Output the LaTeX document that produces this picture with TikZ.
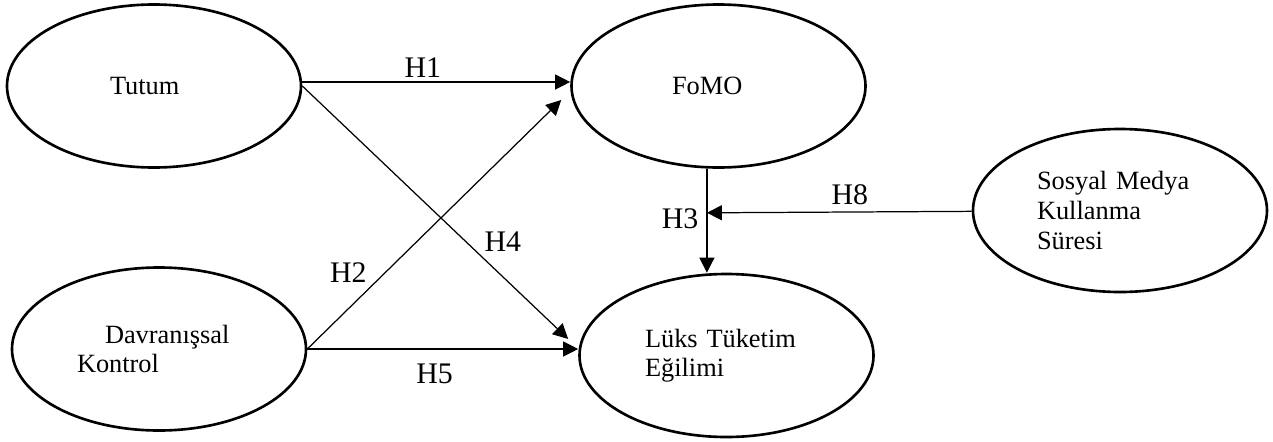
\documentclass[tikz,border=0pt]{standalone}
\usepackage{fontspec}
\setmainfont{Liberation Serif}
\usetikzlibrary{shapes, arrows.meta}
\tikzstyle{construct} = [ellipse, minimum width=5.88cm, minimum height=3.26cm, draw=black, line width=1.5pt, align=left, font=\fontsize{15}{16.8}\selectfont]
\tikzstyle{hyp} = [font=\fontsize{17}{20}\selectfont, inner sep=2pt]
\tikzstyle{line} = [draw, line width=0.7pt, -{Triangle[length=0.3cm, width=0.3cm]}]

\begin{document}
\begin{tikzpicture}[node distance=1cm, auto]
            \useasboundingbox (0,0) rectangle (25.46,8.82);
            % Draw nodes
            % Left line
            \node (tutum) [construct, text width=1.76cm] at (3.08,7.10) {Tutum};
            \node (davr) [construct, text width=3.28cm, below of=tutum, xshift=0.1cm, yshift=-4.26cm] {\hspace*{0.56cm}Davranışsal\\Kontrol};
            
            % Middle line
            \node (fomo) [construct, text width=1.86cm, right of=tutum, xshift=10.29cm] {FoMO};
            \node (luks) [construct, text width=3.26cm, below of=fomo, xshift=0.16cm, yshift=-4.39cm] {Lüks Tüketim\\Eğilimi};
            
            % Right line
            \node (sure) [construct, text width=3.32cm, right of=fomo, xshift=7.03cm, yshift=-2.49cm] {Sosyal Medya\\Kullanma\\Süresi};
            
            % Draw lines
            % Left
            \path [line] ([yshift=0.08cm]tutum.east) -- node[hyp, pos=0.45, above] {H1} ([yshift=0.08cm]fomo.west);
            \path [line] (tutum.east) -- node[hyp, pos=0.67, above right] {H4} ([xshift=-0.2cm, yshift=0.33cm]luks.west);
            \path [line] (davr.east) -- node[hyp, pos=0.25, above left] {H2} ([xshift=-0.18cm, yshift=-0.28cm]fomo.west);
            \path [line] (davr.east) -- node[hyp, pos=0.47, below=6pt] {H5} (davr.east -| luks.west);
            
            % Right
            \path [line] (fomo.262) -- node[hyp, pos=0.48, left=2.5pt] {H3} coordinate[pos=0.425] (join) (fomo.262 |- luks.north);
            \path [line] (sure) -- node[hyp, pos=0.46, above=2pt] {H8} (join);
        \end{tikzpicture}
\end{document}
